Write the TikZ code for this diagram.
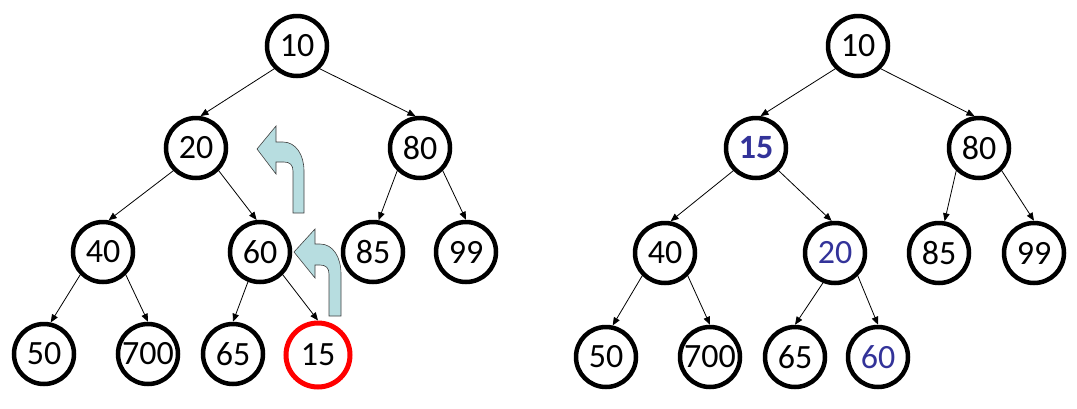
\documentclass[tikz,border=0pt]{standalone}
\usepackage{fontspec}
\setmainfont{Carlito}
\usetikzlibrary{arrows.meta}
\definecolor{hl}{HTML}{333399}
\definecolor{arrfill}{HTML}{B7DDE0}
\definecolor{redc}{HTML}{FF0000}
\begin{document}
\begin{tikzpicture}[x=1pt,y=-1pt,
  hnode/.style={circle,draw=black,line width=4.5pt,minimum size=60pt,inner sep=0pt,font=\fontsize{34}{34}\selectfont},
  newnode/.style={hnode,draw=redc,line width=5pt,minimum size=64pt},
  moved/.style={text=hl},
  edge/.style={draw=black,line width=0.8pt,-{Triangle[length=8pt,width=6.5pt]}},
  uparrow/.style={fill=arrfill,draw=black!75,line width=0.6pt}]
\useasboundingbox (0,0) rectangle (1077,408);
% ---------- left tree ----------
\node[hnode] (a10) at (297,46) {10};
\node[hnode] (a20) at (196,148) {20};
\node[hnode] (a80) at (420,148) {80};
\node[hnode] (a40) at (103,252) {40};
\node[hnode] (a60) at (260,252) {60};
\node[hnode] (a85) at (373,252) {85};
\node[hnode] (a99) at (466,252) {99};
\node[hnode] (a50) at (44,354) {50};
\node[hnode] (a700) at (148,354) {700};
\node[hnode] (a65) at (233,354) {65};
\node[newnode] (a15) at (318,355) {15};
\draw[edge] (a10.south west) -- (a20.82);
\draw[edge] (a10.south east) -- (a80.98);
\draw[edge] (a20.south west) -- (a40.80);
\draw[edge] (a20.south east) -- (a60.96);
\draw[edge] (a80.south west) -- (a85.80);
\draw[edge] (a80.south east) -- (a99.north);
\draw[edge] (a40.south west) -- (a50.78);
\draw[edge] (a40.south east) -- (a700.north);
\draw[edge] (a60.-112) -- (a65.north);
\draw[edge] (a60.south east) -- (a15.north);
% curved up arrows
\draw[uparrow] (293,213) -- (293,171) .. controls (293,165) and (290,162) .. (284,162)
  -- (276,162) -- (276,174) -- (257,149) -- (276,126) -- (276,142) -- (283,142)
  .. controls (296,142) and (304,155) .. (304,171) -- (304,213) -- cycle;
\draw[uparrow] (329,316) -- (329,274) .. controls (329,268) and (326,265) .. (320,265)
  -- (315,265) -- (315,278) -- (294,252) -- (315,229) -- (315,244) -- (320,244)
  .. controls (333,244) and (341,257) .. (341,274) -- (341,316) -- cycle;
% ---------- right tree ----------
\node[hnode] (b10) at (858,46) {10};
\node[hnode,moved,font=\fontsize{34}{34}\selectfont\bfseries] (b15) at (756,148) {15};
\node[hnode] (b80) at (979,148) {80};
\node[hnode] (b40) at (665,253) {40};
\node[hnode,moved] (b20) at (835,253) {20};
\node[hnode] (b85) at (939,253) {85};
\node[hnode] (b99) at (1034,253) {99};
\node[hnode] (b50) at (606,357) {50};
\node[hnode] (b700) at (710,357) {700};
\node[hnode] (b65) at (795,357) {65};
\node[hnode,moved] (b60) at (878,357) {60};
\draw[edge] (b10.south west) -- (b15.82);
\draw[edge] (b10.south east) -- (b80.98);
\draw[edge] (b15.south west) -- (b40.80);
\draw[edge] (b15.south east) -- (b20.96);
\draw[edge] (b80.south west) -- (b85.80);
\draw[edge] (b80.south east) -- (b99.north);
\draw[edge] (b40.south west) -- (b50.78);
\draw[edge] (b40.south east) -- (b700.north);
\draw[edge] (b20.-112) -- (b65.north);
\draw[edge] (b20.south east) -- (b60.north);
\end{tikzpicture}
\end{document}
